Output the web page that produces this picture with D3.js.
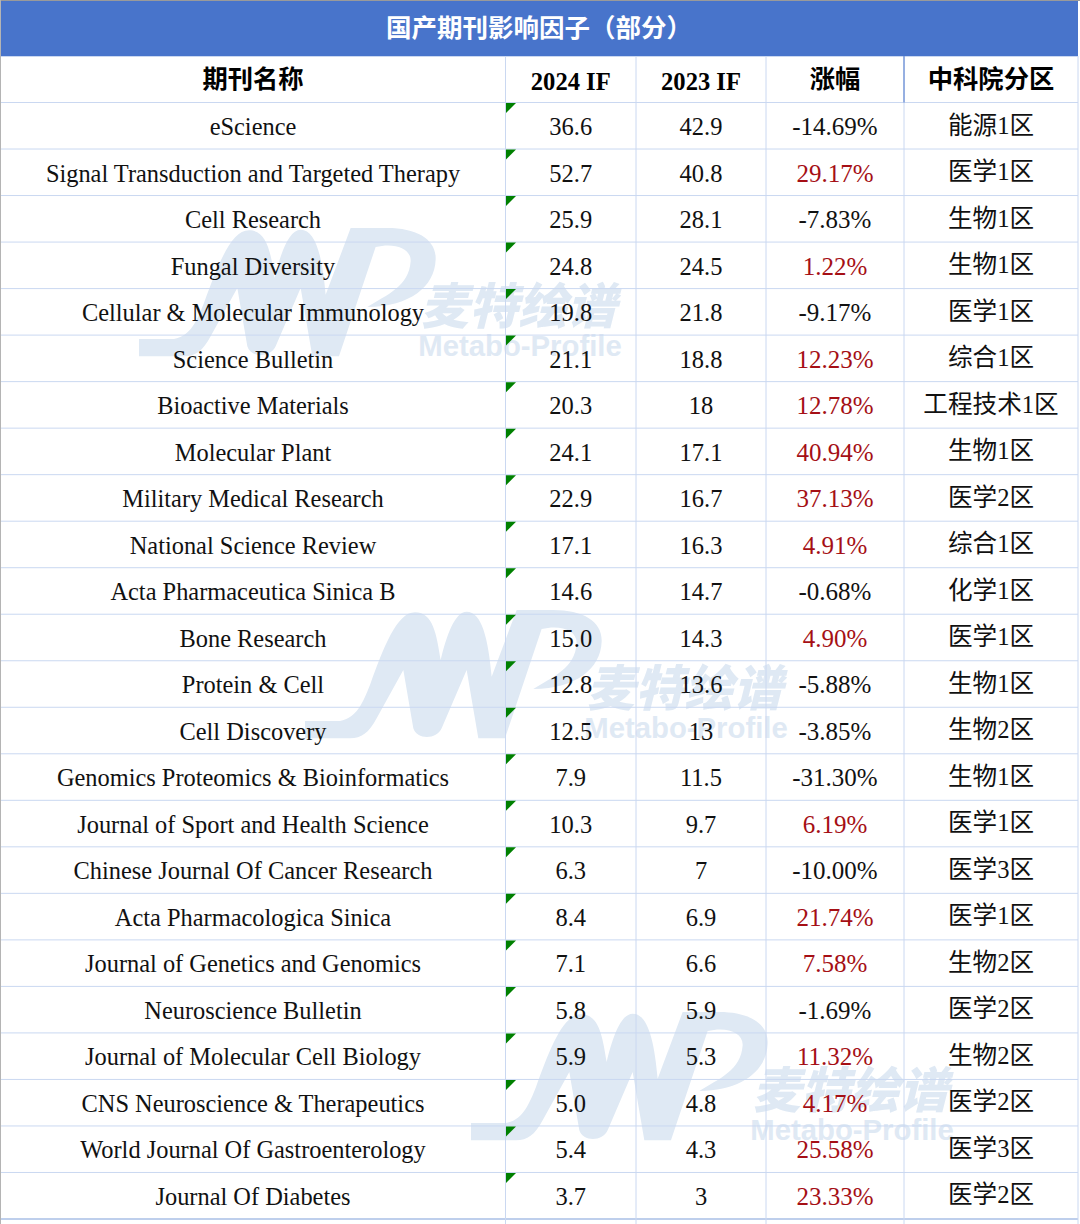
<!DOCTYPE html>
<html>
<head>
<meta charset="utf-8">
<script src="https://cdn.jsdelivr.net/npm/d3@7"></script>
<style>
  html, body { margin: 0; padding: 0; background: #fff; }
  svg { display: block; }
  text { font-family: "Liberation Serif", "Noto Sans CJK SC", serif; text-anchor: middle; }
</style>
</head>
<body>
<script>
var title = "国产期刊影响因子（部分）";
var headers = ["期刊名称", "2024 IF", "2023 IF", "涨幅", "中科院分区"];

var journals = ["eScience", "Signal Transduction and Targeted Therapy", "Cell Research", "Fungal Diversity",
  "Cellular & Molecular Immunology", "Science Bulletin", "Bioactive Materials", "Molecular Plant",
  "Military Medical Research", "National Science Review", "Acta Pharmaceutica Sinica B", "Bone Research",
  "Protein & Cell", "Cell Discovery", "Genomics Proteomics & Bioinformatics", "Journal of Sport and Health Science",
  "Chinese Journal Of Cancer Research", "Acta Pharmacologica Sinica", "Journal of Genetics and Genomics",
  "Neuroscience Bulletin", "Journal of Molecular Cell Biology", "CNS Neuroscience & Therapeutics",
  "World Journal Of Gastroenterology", "Journal Of Diabetes"];
var if2024 = ["36.6", "52.7", "25.9", "24.8", "19.8", "21.1", "20.3", "24.1", "22.9", "17.1", "14.6", "15.0",
  "12.8", "12.5", "7.9", "10.3", "6.3", "8.4", "7.1", "5.8", "5.9", "5.0", "5.4", "3.7"];
var if2023 = ["42.9", "40.8", "28.1", "24.5", "21.8", "18.8", "18", "17.1", "16.7", "16.3", "14.7", "14.3",
  "13.6", "13", "11.5", "9.7", "7", "6.9", "6.6", "5.9", "5.3", "4.8", "4.3", "3"];
var growth = ["-14.69%", "29.17%", "-7.83%", "1.22%", "-9.17%", "12.23%", "12.78%", "40.94%", "37.13%", "4.91%",
  "-0.68%", "4.90%", "-5.88%", "-3.85%", "-31.30%", "6.19%", "-10.00%", "21.74%", "7.58%", "-1.69%",
  "11.32%", "4.17%", "25.58%", "23.33%"];
var zones = ["能源1区", "医学1区", "生物1区", "生物1区", "医学1区", "综合1区", "工程技术1区", "生物1区", "医学2区",
  "综合1区", "化学1区", "医学1区", "生物1区", "生物2区", "生物1区", "医学1区", "医学3区", "医学1区", "生物2区",
  "医学2区", "生物2区", "医学2区", "医学3区", "医学2区"];

var width = 1080, height = 1224;
var colEdges = [0.5, 505.5, 636, 766, 904, 1078];
var colFont = [24.4, 24.5, 24.5, 25, 24.6];
var titleBottom = 56, headBottom = 102.5, tableBottom = 1219;

var svg = d3.select("body").append("svg")
    .attr("width", width)
    .attr("height", height);

// row scale, one band per journal
var y = d3.scaleBand()
    .domain(d3.range(journals.length))
    .range([headBottom, tableBottom]);

function colMid(i) { return (colEdges[i] + colEdges[i + 1]) / 2; }

//watermark sits under everything, the grid shows through it
var logoPath = "M-45,348 L60,348 C110,340 130,290 150,240 C190,130 230,22 285,22 C340,22 350,90 362,165 " +
  "C380,90 405,20 440,20 C485,20 505,100 515,215 L590,15 L700,15 C790,15 848,50 845,110 C842,190 770,250 640,252 " +
  "C700,215 765,190 770,115 C772,75 720,58 665,72 L555,400 L475,400 L440,195 L365,370 C350,405 290,405 280,370 " +
  "L250,195 L170,340 C145,385 125,400 90,400 L-45,400 Z";
var marks = [[-166, -382], [0, 0], [166, 402]];

var wm = svg.selectAll("g.wm").data(marks).join("g")
    .attr("class", "wm")
    .attr("transform", function (d) { return "translate(" + d[0] + "," + d[1] + ")"; })
    .attr("fill", "#dfe9f4");
wm.append("path")
    .attr("d", logoPath)
    .attr("transform", "translate(320,605) scale(0.3333)");
wm.append("text")
    .attr("x", 684).attr("y", 706)
    .attr("font-size", 49).attr("font-weight", 900)
    .attr("font-style", "italic")
    .style("font-family", "'Noto Sans CJK SC'")
    .text("麦特绘谱");
wm.append("text")
    .attr("x", 686).attr("y", 738)
    .attr("font-size", 29.3).attr("font-weight", 700)
    .style("font-family", "'Liberation Sans'")
    .text("Metabo-Profile");

// title bar
svg.append("rect")
    .attr("x", 1).attr("y", 1)
    .attr("width", 1077).attr("height", titleBottom - 1)
    .attr("fill", "#4874cb");
svg.append("text")
    .attr("x", 539).attr("y", 37)
    .attr("fill", "#fff")
    .attr("font-size", 25.5).attr("font-weight", 700)
    .style("font-family", "'Noto Sans CJK SC'")
    .text(title);

// outer edge of the screenshot
svg.append("rect").attr("width", width).attr("height", 1).attr("fill", "#9a9a9a");
svg.append("rect").attr("width", 1).attr("height", height).attr("fill", "#b4b4b4");

// grid
var rowLines = [titleBottom + 0.5, headBottom].concat(d3.range(1, journals.length + 1).map(function (i) {
  return headBottom + i * y.bandwidth();
}));
svg.selectAll("line.row").data(rowLines).join("line")
    .attr("class", "row")
    .attr("x1", 1).attr("x2", 1078)
    .attr("y1", function (d) { return d; })
    .attr("y2", function (d) { return d; })
    .attr("stroke", function (d, i) { return i === rowLines.length - 1 ? "#a9bfe6" : "#cad8f1"; })
    .attr("stroke-width", function (d, i) { return i === rowLines.length - 1 ? 1.5 : 1; });
svg.selectAll("line.col").data(colEdges.slice(1)).join("line")
    .attr("class", "col")
    .attr("x1", function (d) { return d; })
    .attr("x2", function (d) { return d; })
    .attr("y1", titleBottom).attr("y2", height)
    .attr("stroke", "#cad8f1");
svg.append("line")
    .attr("x1", 904).attr("x2", 904)
    .attr("y1", titleBottom).attr("y2", headBottom)
    .attr("stroke", "#4874cb");

// green corner flags in the 2024 IF column
svg.selectAll("path.flag").data(journals).join("path")
    .attr("class", "flag")
    .attr("fill", "#008000")
    .attr("d", function (d, i) {
      var t = y(i) + 0.5, l = 506;
      return "M" + l + "," + t + "L" + (l + 10) + "," + t + "L" + l + "," + (t + 10) + "Z";
    });

// header row
svg.selectAll("text.head").data(headers).join("text")
    .attr("class", "head")
    .attr("x", function (d, i) { return colMid(i); })
    .attr("y", function (d, i) { return (i === 1 || i === 2) ? 89.5 : 88; })
    .attr("font-size", function (d, i) { return (i === 1 || i === 2) ? 24.6 : 25.3; })
    .attr("font-weight", 700)
    .attr("fill", "#000")
    .text(function (d) { return d; });

// body cells
var columns = [journals, if2024, if2023, growth, zones];
columns.forEach(function (col, c) {
  svg.selectAll("text.c" + c).data(col).join("text")
      .attr("class", "c" + c)
      .attr("x", colMid(c))
      .attr("y", function (d, i) { return y(i) + (c === 4 ? 31 : 32.5); })
      .attr("font-size", colFont[c])
      .attr("fill", function (d) {
        if (c === 3 && d.charAt(0) !== "-") return "#a50f15";
        return "#111";
      })
      .text(function (d) { return d; });
});
</script>
</body>
</html>
